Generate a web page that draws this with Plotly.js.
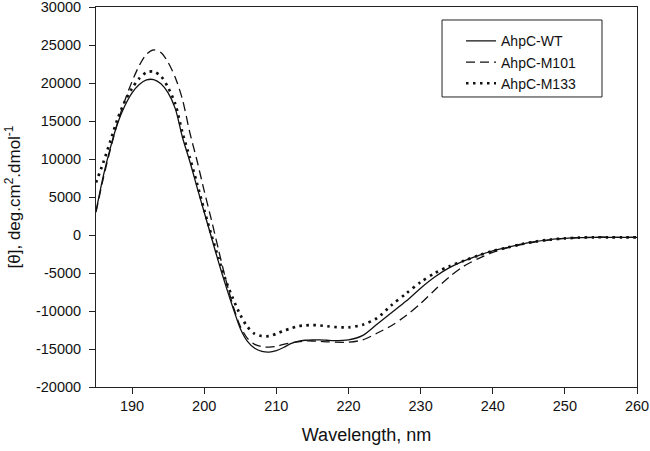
<!DOCTYPE html>
<html>
<head>
<meta charset="utf-8">
<script src="https://cdn.plot.ly/plotly-3.0.1.min.js"></script>
<style>html,body{margin:0;padding:0;background:#fff;}#chart{width:650px;height:451px;}</style>
</head>
<body>
<div id="chart"></div>
<script>
var wavelength = [185,186,187,188,189,190,191,192,193,194,195,196,197,198,199,200,201,202,203,204,205,206,207,208,209,210,211,212,213,214,215,216,217,218,220,222,224,226,228,230,232,234,236,238,240,242,244,246,248,250,252,254,256,258,260];

var wt = [3100,7700,11500,14700,17000,18700,19800,20400,20450,19900,18700,16600,12800,9700,6300,3000,-300,-3600,-6700,-9600,-12300,-14000,-14900,-15300,-15400,-15200,-14800,-14300,-14000,-13850,-13800,-13800,-13850,-13900,-13800,-13200,-11700,-10200,-8700,-7000,-5500,-4300,-3400,-2700,-2100,-1650,-1200,-850,-600,-450,-350,-300,-300,-300,-300];

var m101 = [3000,7400,11300,14800,17700,20200,22300,23800,24350,24000,22700,20700,17800,13500,9800,5800,2000,-2000,-5900,-9300,-12000,-13600,-14400,-14700,-14750,-14650,-14400,-14200,-14050,-13950,-13950,-14000,-14050,-14100,-14100,-13800,-12900,-11900,-10600,-9000,-7200,-5500,-4100,-3100,-2300,-1700,-1250,-900,-650,-450,-350,-300,-300,-300,-300];

var m133 = [6900,9500,12400,15300,17600,19300,20600,21400,21500,20900,19400,17200,13400,10200,6800,3300,0,-3100,-6000,-8400,-10500,-12100,-13000,-13300,-13300,-13000,-12600,-12300,-12000,-11900,-11850,-11900,-12000,-12100,-12150,-11800,-10900,-9200,-7700,-6200,-5000,-4100,-3400,-2700,-2100,-1650,-1200,-850,-600,-450,-350,-300,-300,-300,-300];

var seriesNames = ["AhpC-WT","AhpC-M101","AhpC-M133"];
var xTicks = [190,200,210,220,230,240,250,260];
var yTicks = [-20000,-15000,-10000,-5000,0,5000,10000,15000,20000,25000,30000];

var traces = [
  {x: wavelength, y: wt, name: seriesNames[0], mode: "lines", line: {color: "#111", width: 1.3, shape: "spline", smoothing: 0.8}},
  {x: wavelength, y: m101, name: seriesNames[1], mode: "lines", line: {color: "#111", width: 1.3, dash: "9px,5px", shape: "spline", smoothing: 0.8}},
  {x: wavelength, y: m133, name: seriesNames[2], mode: "lines", line: {color: "#111", width: 2.7, dash: "2.5px,4.5px", shape: "spline", smoothing: 0.8}}
];

var fam = "Liberation Sans, Arial, sans-serif";
var axisFont = {family: fam, size: 14.5, color: "#111"};

var layout = {
  width: 650, height: 451,
  margin: {l: 96, r: 13, t: 7, b: 64},
  paper_bgcolor: "#fff", plot_bgcolor: "#fff",
  showlegend: true,
  legend: {x: 0.6747, y: 0.952, xanchor: "left", yanchor: "top", bgcolor: "rgba(0,0,0,0)", borderwidth: 0,
           font: {family: fam, size: 14, color: "#111"}, tracegroupgap: 0},
  shapes: [
    {type: "rect", xref: "paper", yref: "paper", x0: 0.6396, x1: 0.9353, y0: 0.7632, y1: 0.9658,
     line: {color: "#222", width: 1}, fillcolor: "rgba(0,0,0,0)"}
  ],
  xaxis: {range: [185, 260], tickvals: xTicks, ticktext: xTicks.map(String), ticks: "outside", ticklen: 6, tickwidth: 1, tickcolor: "#222",
          showline: true, linecolor: "#222", linewidth: 1, mirror: true, showgrid: false, zeroline: false, ticklabeloverflow: "allow",
          tickfont: axisFont, title: {text: "Wavelength, nm", font: {family: fam, size: 18, color: "#111"}, standoff: 14}},
  yaxis: {range: [-20000, 30000], tickvals: yTicks, ticktext: yTicks.map(String), ticks: "outside", ticklen: 6, tickwidth: 1, tickcolor: "#222",
          showline: true, linecolor: "#222", linewidth: 1, mirror: true, showgrid: false, zeroline: false, ticklabeloverflow: "allow",
          ticklabelstandoff: 5,
          tickfont: axisFont, title: {text: "[θ], deg.cm<sup>2</sup>.dmol<sup>-1</sup>", font: {family: fam, size: 17, color: "#111"}, standoff: 10}}
};

Plotly.newPlot("chart", traces, layout, {displayModeBar: false, staticPlot: true});
</script>
</body>
</html>
